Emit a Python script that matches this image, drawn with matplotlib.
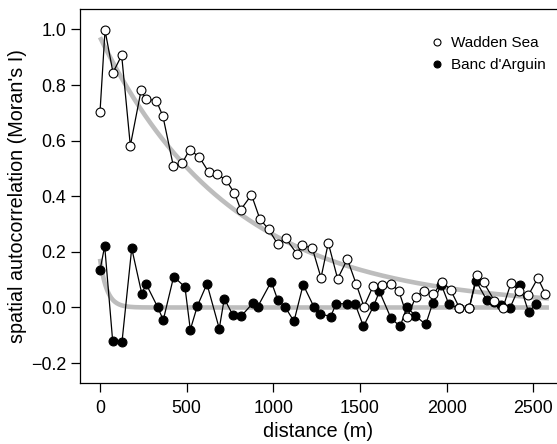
import numpy as np
import matplotlib
matplotlib.use("Agg")
import matplotlib.pyplot as plt

plt.rcParams['font.family'] = ['Liberation Sans', 'DejaVu Sans']

# Wadden Sea (open circles)
wadden_dist = [0, 29, 75, 125, 175, 237, 263, 325, 363, 423, 475, 517, 573, 627, 677,
               727, 775, 812, 874, 922, 973, 1025, 1071, 1135, 1168, 1225, 1275, 1317,
               1371, 1427, 1477, 1523, 1575, 1627, 1677, 1723, 1773, 1821, 1868, 1924,
               1973, 2023, 2074, 2130, 2174, 2213, 2275, 2324, 2371, 2420, 2471, 2526, 2570]
wadden_moran = [0.703, 0.997, 0.845, 0.907, 0.582, 0.781, 0.750, 0.744, 0.688, 0.509,
                0.520, 0.568, 0.541, 0.487, 0.481, 0.457, 0.413, 0.352, 0.405, 0.319,
                0.281, 0.228, 0.249, 0.194, 0.224, 0.213, 0.107, 0.232, 0.103, 0.174,
                0.086, 0.003, 0.076, 0.082, 0.084, 0.061, -0.034, 0.037, 0.060, 0.048,
                0.093, 0.063, -0.002, -0.002, 0.118, 0.090, 0.025, -0.002, 0.088, 0.060,
                0.044, 0.106, 0.048]

# Banc d'Arguin (filled circles)
banc_dist = [0, 27, 73, 127, 183, 242, 265, 333, 365, 425, 490, 521, 562, 617, 688, 717,
             767, 816, 881, 910, 988, 1026, 1067, 1119, 1172, 1236, 1269, 1330, 1363,
             1423, 1471, 1520, 1579, 1612, 1679, 1732, 1770, 1818, 1879, 1919, 1969,
             2013, 2074, 2130, 2169, 2230, 2271, 2313, 2365, 2423, 2473, 2517]
banc_moran = [0.134, 0.221, -0.120, -0.123, 0.213, 0.047, 0.086, 0.001, -0.045, 0.111,
              0.074, -0.080, 0.006, 0.085, -0.076, 0.032, -0.028, -0.030, 0.015, 0.003,
              0.093, 0.026, 0.003, -0.050, 0.082, 0.000, -0.022, -0.033, 0.014, 0.013,
              0.014, -0.068, 0.006, 0.058, -0.039, -0.068, 0.002, -0.029, -0.061, 0.015,
              0.082, 0.011, -0.003, -0.003, 0.096, 0.028, 0.020, 0.010, -0.002, 0.080,
              -0.017, 0.014]

# fitted exponential decay models (sill, range)
wadden_fit = (0.972, 762.0)
banc_fit = (0.175, 40.0)
fit_extent = (0, 2590)

xticks = [0, 500, 1000, 1500, 2000, 2500]
yticks = [-0.2, 0.0, 0.2, 0.4, 0.6, 0.8, 1.0]

W, H = 557, 444
fig = plt.figure(figsize=(W / 100, H / 100), dpi=100)
ax = fig.add_axes([80 / W, 1 - 383 / H, 1 - 80 / W, (383 - 9) / H])

d = np.linspace(fit_extent[0], fit_extent[1], 400)
ax.plot(d, wadden_fit[0] * np.exp(-d / wadden_fit[1]), color='#bdbdbd', lw=3.3, zorder=1,
        solid_capstyle='butt')
ax.plot(d, banc_fit[0] * np.exp(-d / banc_fit[1]), color='#bdbdbd', lw=3.3, zorder=1,
        solid_capstyle='butt')

ax.plot(banc_dist, banc_moran, color='black', lw=0.9, marker='o', ms=6.4,
        mfc='black', mec='black', mew=0.8, zorder=2)
ax.plot(wadden_dist, wadden_moran, color='black', lw=0.9, marker='o', ms=6.4,
        mfc='white', mec='black', mew=0.8, zorder=3)

ax.set_xlim(-115.4, 2636.5)
ax.set_ylim(-0.2716, 1.0737)
ax.set_xticks(xticks)
ax.set_yticks(yticks)
ax.set_yticklabels([f"{v:.1f}".replace('-', '\u2212') for v in yticks])
ax.tick_params(direction='out', length=6.5, width=0.9, labelsize=12.9)
ax.tick_params(axis='x', pad=5.5)
ax.tick_params(axis='y', pad=3.5)
ax.spines['right'].set_visible(False)
for s in ['left', 'top', 'bottom']:
    ax.spines[s].set_linewidth(0.9)

ax.set_xlabel('distance (m)', fontsize=14.4, labelpad=3.5)
ax.set_ylabel("spatial autocorrelation (Moran's I)", fontsize=14.2, labelpad=2.5)

# legend
lw_h = plt.Line2D([], [], ls='none', marker='o', ms=5, mfc='white', mec='black', mew=0.8)
lb_h = plt.Line2D([], [], ls='none', marker='o', ms=5, mfc='black', mec='black', mew=0.8)
fig.legend([lw_h, lb_h], ['Wadden Sea', "Banc d'Arguin"], loc='upper left',
           bbox_to_anchor=(430.6 / W, 1 - 36 / H), frameon=False, fontsize=11,
           handlelength=0.8, handletextpad=0.52, borderpad=0, borderaxespad=0,
           labelspacing=0.55)

fig.savefig('out.png', dpi=100)
